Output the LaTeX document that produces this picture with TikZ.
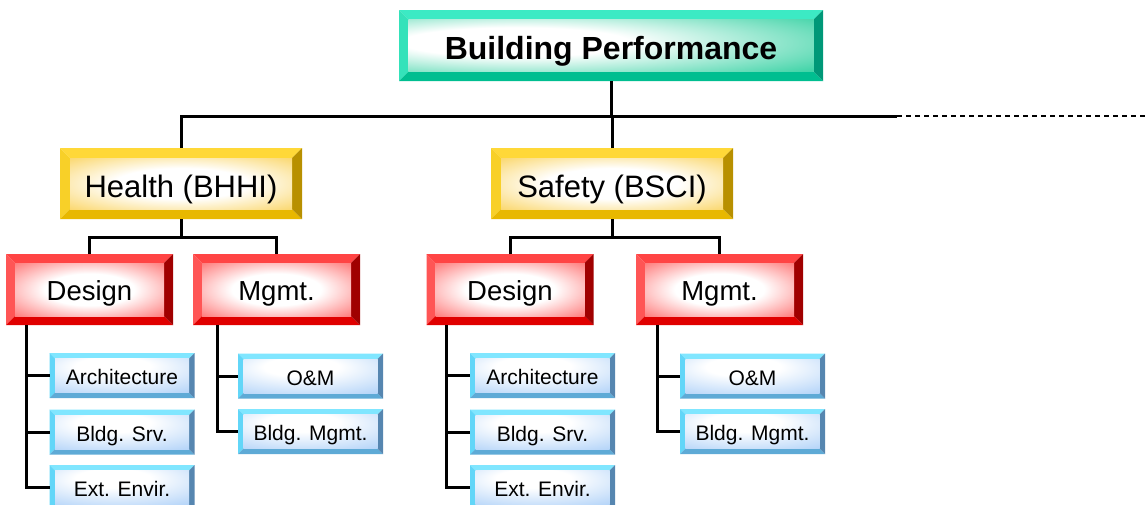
\documentclass[tikz,border=0pt]{standalone}
\usepackage{fontspec}
\setmainfont{Liberation Sans}
\usetikzlibrary{calc}
\definecolor{gT}{HTML}{3CEAC4}\definecolor{gL}{HTML}{34E2BA}\definecolor{gB}{HTML}{00BE90}\definecolor{gR}{HTML}{009878}\definecolor{gIn}{HTML}{30D0A0}
\definecolor{yT}{HTML}{FFD838}\definecolor{yL}{HTML}{F8D028}\definecolor{yB}{HTML}{E8B800}\definecolor{yR}{HTML}{B89000}\definecolor{yIn}{HTML}{F8C018}
\definecolor{rT}{HTML}{FF4444}\definecolor{rL}{HTML}{FF5555}\definecolor{rB}{HTML}{E00000}\definecolor{rR}{HTML}{A00000}\definecolor{rIn}{HTML}{FF2020}
\definecolor{bT}{HTML}{80E6FF}\definecolor{bL}{HTML}{62D6F8}\definecolor{bB}{HTML}{5EAAD6}\definecolor{bR}{HTML}{5686B0}\definecolor{bIn}{HTML}{98C4F6}
\pgfdeclareradialshading{shG}{\pgfpoint{-14bp}{4bp}}{color(0bp)=(white); color(14bp)=(white); color(44bp)=(gIn); color(90bp)=(gIn)}
\pgfdeclareradialshading{shY}{\pgfpoint{0bp}{0bp}}{color(0bp)=(white); color(15bp)=(white); color(48bp)=(yIn); color(90bp)=(yIn)}
\pgfdeclareradialshading{shR}{\pgfpoint{0bp}{0bp}}{color(0bp)=(white); color(15bp)=(white); color(50bp)=(rIn); color(90bp)=(rIn)}
\pgfdeclareradialshading{shB}{\pgfpoint{-4bp}{16bp}}{color(0bp)=(white); color(14bp)=(white); color(54bp)=(bIn); color(90bp)=(bIn)}
\tikzset{
  bev/.style n args={6}{inner sep=0pt, outer sep=0pt, anchor=center,
    path picture={
      \path (path picture bounding box.north west) coordinate (bvNW)
            (path picture bounding box.north east) coordinate (bvNE)
            (path picture bounding box.south west) coordinate (bvSW)
            (path picture bounding box.south east) coordinate (bvSE);
      \fill[#2] (bvNW) -- (bvNE) -- ([shift={(-#1,-#1)}]bvNE) -- ([shift={(#1,-#1)}]bvNW) -- cycle;
      \fill[#3] (bvNW) -- (bvSW) -- ([shift={(#1,#1)}]bvSW) -- ([shift={(#1,-#1)}]bvNW) -- cycle;
      \fill[#4] (bvSW) -- (bvSE) -- ([shift={(-#1,#1)}]bvSE) -- ([shift={(#1,#1)}]bvSW) -- cycle;
      \fill[#5] (bvNE) -- (bvSE) -- ([shift={(-#1,#1)}]bvSE) -- ([shift={(-#1,-#1)}]bvNE) -- cycle;
      \shade[shading=#6] ([shift={(#1,-#1)}]bvNW) rectangle ([shift={(-#1,#1)}]bvSE);
    }},
  topbox/.style={bev={9.5pt}{gT}{gL}{gB}{gR}{shG}, minimum width=424pt, minimum height=71pt, text height=28pt, text depth=0pt, font=\fontsize{32}{38}\selectfont\bfseries},
  catbox/.style={bev={10pt}{yT}{yL}{yB}{yR}{shY}, minimum width=242pt, minimum height=71pt, text height=27pt, text depth=0pt, font=\fontsize{31}{37}\selectfont},
  subbox/.style={bev={9pt}{rT}{rL}{rB}{rR}{shR}, minimum width=167pt, minimum height=71pt, text height=22.7pt, text depth=0pt, font=\fontsize{27.5}{33}\selectfont},
  leafbox/.style={bev={5.5pt}{bT}{bL}{bB}{bR}{shB}, minimum width=145pt, minimum height=45pt, text height=18pt, text depth=0pt, font=\fontsize{21}{25}\selectfont},
  conn/.style={line width=3pt, black},
}
\begin{document}
\begin{tikzpicture}[x=1pt,y=-1pt]
\useasboundingbox (0,0) rectangle (1145,504);
% nodes
\node[topbox] (top) at (611,45.5) {Building Performance};
\node[catbox] (health) at (181,183.5) {Health (BHHI)};
\node[catbox] (safety) at (612,183.5) {Safety (BSCI)};
\node[subbox] (d1) at (89.5,289.5) {Design};
\node[subbox] (m1) at (276.5,289.5) {Mgmt.};
\node[subbox] (d2) at (510,289.5) {Design};
\node[subbox] (m2) at (719.5,289.5) {Mgmt.};
\node[leafbox] (a1) at (122,375.5) {Architecture};
\node[leafbox] (b1) at (122,432) {Bldg. Srv.};
\node[leafbox] (e1) at (122,487.5) {Ext. Envir.};
\node[leafbox] (o1) at (310.5,376) {O\&M};
\node[leafbox] (g1) at (310.5,431.5) {Bldg. Mgmt.};
\node[leafbox] (a2) at (542.5,375.5) {Architecture};
\node[leafbox] (b2) at (542.5,432) {Bldg. Srv.};
\node[leafbox] (e2) at (542.5,487.5) {Ext. Envir.};
\node[leafbox] (o2) at (752.5,376) {O\&M};
\node[leafbox] (g2) at (752.5,431.5) {Bldg. Mgmt.};
% junction coordinates
\coordinate (dashA) at (897,116);
\coordinate (dashB) at (1145,116);
\coordinate (hj) at (181,237);
\coordinate (sj) at (612,237);
% connectors
\draw[conn] (health.north) |- (dashA);
\draw[conn, line width=2.4pt, dash pattern=on 4.5pt off 4.5pt] (dashA) -- (dashB);
\draw[conn] (top.south) -- (top.south |- dashA);
\draw[conn] (safety.north) -- (safety.north |- dashA);
\draw[conn] (health.south) -- (hj);
\draw[conn] (d1.north) |- (hj) -| (m1.north);
\draw[conn] (safety.south) -- (sj);
\draw[conn] (d2.north) |- (sj) -| (m2.north);
\draw[conn] ([xshift=20pt]d1.south west) |- (a1.west);
\draw[conn] ([xshift=20pt]d1.south west) |- (b1.west);
\draw[conn] ([xshift=20pt]d1.south west) |- (e1.west);
\draw[conn] ([xshift=24pt]m1.south west) |- (o1.west);
\draw[conn] ([xshift=24pt]m1.south west) |- (g1.west);
\draw[conn] ([xshift=20pt]d2.south west) |- (a2.west);
\draw[conn] ([xshift=20pt]d2.south west) |- (b2.west);
\draw[conn] ([xshift=20pt]d2.south west) |- (e2.west);
\draw[conn] ([xshift=21pt]m2.south west) |- (o2.west);
\draw[conn] ([xshift=21pt]m2.south west) |- (g2.west);
\end{tikzpicture}
\end{document}
